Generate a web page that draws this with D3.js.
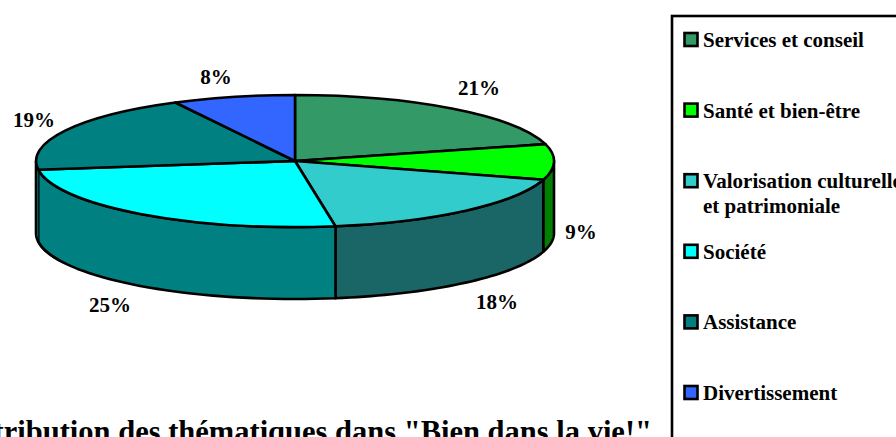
<!DOCTYPE html>
<html>
<head>
<meta charset="utf-8">
<script src="https://cdn.jsdelivr.net/npm/d3@7"></script>
<style>
  html, body { margin: 0; padding: 0; background: #fff; overflow: hidden; }
  text { font-family: "Liberation Serif", serif; font-weight: bold; fill: #000; }
</style>
</head>
<body>
<div id="d3-container"></div>
<script>
//CONSTANTS AND GLOBALS
const width = 896,
  height = 437;

const categories = ["Services et conseil", "Santé et bien-être", "Valorisation culturelle", "Société", "Assistance", "Divertissement"];
const legendSecondLine = ["", "", "et patrimoniale", "", "", ""];
const values = [20.9, 8.7, 17.9, 25.4, 19.45, 7.65];
const topColors = ["#339966", "#00ff00", "#33cccc", "#00ffff", "#008080", "#3366ff"];
const sideColors = ["#1a4d33", "#008000", "#1a6666", "#008080", "#008080", "#1a3380"];
const labelPos = [[479, 95], [581, 239], [497, 309], [110, 312], [34, 127], [216, 84]];

const cx = 295, cy = 161, rx = 259, ry = 66, depth = 72, line = 2.6;

const svg = d3.select("#d3-container")
  .append("svg")
  .attr("width", width)
  .attr("height", height);

// PIE ANGLES
const arcs = d3.pie().sort(null).value(d => d)(values);
const pct = d3.format(".0f");

const px = a => cx + rx * Math.sin(a);
const py = a => cy - ry * Math.cos(a);

// SIDE WALLS (only the front half of the disc shows)
const edgeLine = d3.line();
arcs.forEach((d, i) => {
  const a0 = Math.max(d.startAngle, Math.PI / 2);
  const a1 = Math.min(d.endAngle, Math.PI * 1.5);
  if (a1 <= a0) return;
  const steps = d3.range(0, 41).map(k => a0 + (a1 - a0) * k / 40);
  const top = steps.map(a => [px(a), py(a)]);
  const bottom = steps.slice().reverse().map(a => [px(a), py(a) + depth]);
  svg.append("path")
    .attr("d", edgeLine(top.concat(bottom)) + "Z")
    .attr("fill", sideColors[i])
    .attr("stroke", i === 4 ? "none" : "#000")
    .attr("stroke-width", line)
    .attr("stroke-linejoin", "round");
});

// outline the front rim again so the Assistance wall has its edge
const rim = d3.range(0, 41).map(k => Math.PI * 1.36 + (Math.PI * 0.14) * k / 40);
svg.append("path")
  .attr("d", edgeLine(rim.map(a => [px(a), py(a) + depth]).concat([[cx - rx, cy]])))
  .attr("fill", "none")
  .attr("stroke", "#000")
  .attr("stroke-width", line);

// TOP FACE
const arc = d3.arc().innerRadius(0).outerRadius(1);
svg.append("g")
  .attr("transform", `translate(${cx},${cy}) scale(${rx},${ry})`)
  .selectAll("path")
  .data(arcs)
  .join("path")
  .attr("d", arc)
  .attr("fill", (d, i) => topColors[i])
  .attr("stroke", "#000")
  .attr("stroke-width", line)
  .attr("vector-effect", "non-scaling-stroke")
  .attr("stroke-linejoin", "round");

// PERCENT LABELS
svg.append("g")
  .selectAll("text")
  .data(values)
  .join("text")
  .attr("x", (d, i) => labelPos[i][0])
  .attr("y", (d, i) => labelPos[i][1])
  .attr("text-anchor", "middle")
  .attr("font-size", 21)
  .text(d => pct(d) + "%");

// TITLE (cut by the edges of the picture, like the original)
svg.append("text")
  .attr("x", 652)
  .attr("y", 442)
  .attr("text-anchor", "end")
  .attr("font-size", 30.5)
  .text("Distribution des thématiques dans \"Bien dans la vie!\"");

// LEGEND
svg.append("rect")
  .attr("x", 672)
  .attr("y", 16)
  .attr("width", 260)
  .attr("height", 460)
  .attr("fill", "#fff")
  .attr("stroke", "#000")
  .attr("stroke-width", line);

const legendY = d3.scalePoint()
  .domain(categories)
  .range([47, 400]);

const legend = svg.append("g")
  .selectAll("g")
  .data(categories)
  .join("g")
  .attr("transform", d => `translate(684,${legendY(d)})`);

legend.append("rect")
  .attr("x", 0.5)
  .attr("y", -14)
  .attr("width", 13)
  .attr("height", 13)
  .attr("fill", (d, i) => topColors[i])
  .attr("stroke", "#000")
  .attr("stroke-width", line);

legend.append("text")
  .attr("x", 19)
  .attr("font-size", 21)
  .text(d => d);

legend.append("text")
  .attr("x", 19)
  .attr("y", 25)
  .attr("font-size", 21)
  .text((d, i) => legendSecondLine[i]);
</script>
</body>
</html>
